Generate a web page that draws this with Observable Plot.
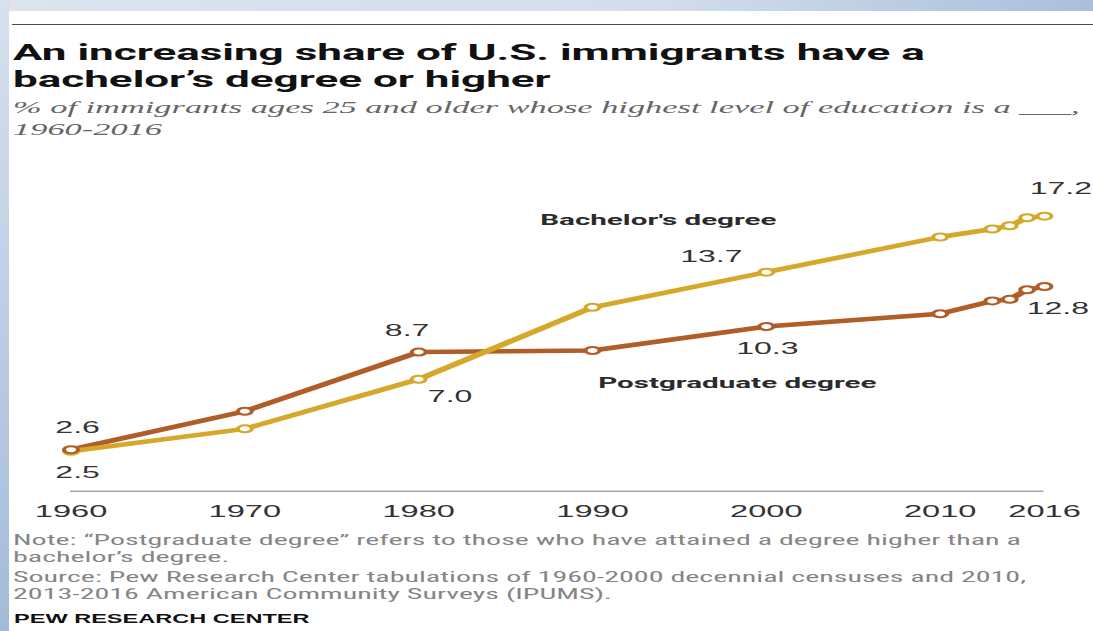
<!DOCTYPE html>
<html>
<head>
<meta charset="utf-8">
<script src="https://cdn.jsdelivr.net/npm/d3@7"></script>
<script src="https://cdn.jsdelivr.net/npm/@observablehq/plot@0.6"></script>
<style>
  html, body { margin: 0; padding: 0; }
  body { width: 1093px; height: 631px; overflow: hidden; position: relative; background: #fff; }
  #bandTop { position: absolute; left: 0; top: 0; width: 1093px; height: 11px;
    background: linear-gradient(to right, #dbe4ef, #d3deec 60%, #a9bfdc); }
  #bandLeft { position: absolute; left: 0; top: 0; width: 9px; height: 631px;
    background: linear-gradient(to bottom, #d7e1ee, #a3bbda); }
  #stretch { position: absolute; left: 0; top: 0; width: 546.5px; height: 631px;
    transform: scaleX(2); transform-origin: 0 0; }
  #rule { position: absolute; left: 6px; right: 0; top: 23.5px; height: 1.6px; background: #4a4a4a; }
  #title { position: absolute; left: 6.5px; top: 40px; margin: 0;
    font-family: Roboto, "Liberation Sans", sans-serif; font-weight: 700; font-size: 22px;
    line-height: 26.7px; color: #111; white-space: nowrap; }
  #subtitle { position: absolute; left: 6.5px; top: 97.3px; margin: 0;
    font-family: "Liberation Serif", serif; font-style: italic; font-size: 17.2px;
    line-height: 22px; color: #666; white-space: nowrap; }
  #chart { position: absolute; left: 0; top: 150px; }
  #notes { position: absolute; left: 6.5px; top: 531.5px; margin: 0;
    font-family: "Roboto Condensed", "Liberation Sans Narrow", sans-serif;
    font-size: 15px; line-height: 17px; color: #858585; white-space: nowrap; }
  #notes p { margin: 0; }
  #notes p + p { margin-top: 3px; }
  #credit { position: absolute; left: 6.5px; top: 611px; margin: 0;
    font-family: "Liberation Sans", sans-serif; font-weight: 700;
    font-size: 13px; line-height: 15px; color: #111; white-space: nowrap;
    transform: scaleX(0.905); transform-origin: 0 0; }
</style>
</head>
<body>
<div id="bandTop"></div>
<div id="bandLeft"></div>
<div id="stretch">
  <div id="rule"></div>
  <h1 id="title">An increasing share of U.S. immigrants have a<br>bachelor’s degree or higher</h1>
  <div id="subtitle">% of immigrants ages 25 and older whose highest level of education is a ___,<br>1960-2016</div>
  <div id="chart"></div>
  <div id="notes">
    <p>Note: “Postgraduate degree” refers to those who have attained a degree higher than a<br>bachelor’s degree.</p>
    <p>Source: Pew Research Center tabulations of 1960-2000 decennial censuses and 2010,<br>2013-2016 American Community Surveys (IPUMS).</p>
  </div>
  <div id="credit">PEW RESEARCH CENTER</div>
</div>
<script>
// ---- data ----
const years = [1960, 1970, 1980, 1990, 2000, 2010, 2013, 2014, 2015, 2016];
const bachelorValues = [2.5, 3.9, 7.0, 11.5, 13.7, 15.9, 16.4, 16.6, 17.1, 17.2];
const postgradValues = [2.6, 5.0, 8.7, 8.8, 10.3, 11.1, 11.9, 12.0, 12.6, 12.8];
const seriesNames = ["Bachelor's degree", "Postgraduate degree"];
const tickYears = [1960, 1970, 1980, 1990, 2000, 2010, 2016];
const labeledYears = [1960, 1980, 2000, 2016];

// ---- styling / layout ----
const colors = ["#d5a82b", "#b05d27"];
const S = 2;                 // horizontal stretch of the whole page
const W = 1093 / S, H = 380;
const labelOffsets = {       // [dx, dy] for the value labels
  "Bachelor's degree":   {1960: [3.3, 21.6], 1980: [15.7, 17.8], 2000: [-27.5, -15], 2016: [8.2, -27.5]},
  "Postgraduate degree": {1960: [3.3, -21.8], 1980: [-5.8, -21.7], 2000: [0.5, 22.2], 2016: [6.7, 22.2]}
};
const nameOffsets = {        // [dx, dy] for series names, anchored on the 2000 point
  "Bachelor's degree": [-54, -51.7],
  "Postgraduate degree": [-14.5, 56.7]
};

const rows = [];
years.forEach((yr, i) => rows.push({year: yr, value: bachelorValues[i], series: seriesNames[0]}));
years.forEach((yr, i) => rows.push({year: yr, value: postgradValues[i], series: seriesNames[1]}));
const bachRows = rows.filter(d => d.series === seriesNames[0]);
const postRows = rows.filter(d => d.series === seriesNames[1]);

const valueLabelMarks = rows
  .filter(d => labeledYears.includes(d.year))
  .map(d => Plot.text([d], {
    x: "year", y: "value", text: r => r.value.toFixed(1),
    dx: labelOffsets[d.series][d.year][0], dy: labelOffsets[d.series][d.year][1],
    fontSize: 16, fill: "#333", fontFamily: "Liberation Sans, Arial, sans-serif"
  }));

const nameMarks = seriesNames.map(name => Plot.text(rows.filter(d => d.series === name && d.year === 2000), {
  x: "year", y: "value", text: "series",
  dx: nameOffsets[name][0], dy: nameOffsets[name][1],
  fontSize: 14.8, fontWeight: 700, fill: "#2b2b2b", fontFamily: "Roboto, Liberation Sans, sans-serif"
}));

const chart = Plot.plot({
  width: W, height: H,
  marginLeft: 70 / S, marginRight: W - 1043.5 / S, marginTop: 52.9, marginBottom: 39.3,
  style: {fontFamily: "Liberation Sans, Arial, sans-serif", fontSize: "16px", color: "#333", background: "transparent", overflow: "visible"},
  x: {domain: [1960, 2016], label: null},
  y: {domain: [0, 18], axis: null},
  color: {domain: seriesNames, range: colors},
  marks: [
    Plot.ruleY([0], {stroke: "#a8a8a8", strokeWidth: 1.6}),
    Plot.axisX(tickYears, {tickSize: 0, tickPadding: 14, tickFormat: d => String(d), fontSize: 16.3, label: null}),
    Plot.line(postRows, {x: "year", y: "value", stroke: "series", strokeWidth: 4.5, strokeLinejoin: "round"}),
    Plot.line(bachRows, {x: "year", y: "value", stroke: "series", strokeWidth: 4.5, strokeLinejoin: "round"}),
    Plot.dot(bachRows, {x: "year", y: "value", r: 3.5, fill: "white", stroke: "series", strokeWidth: 2}),
    Plot.dot(postRows, {x: "year", y: "value", r: 3.5, fill: "white", stroke: "series", strokeWidth: 2}),
    ...valueLabelMarks,
    ...nameMarks
  ]
});
document.getElementById("chart").appendChild(chart);
</script>
</body>
</html>
